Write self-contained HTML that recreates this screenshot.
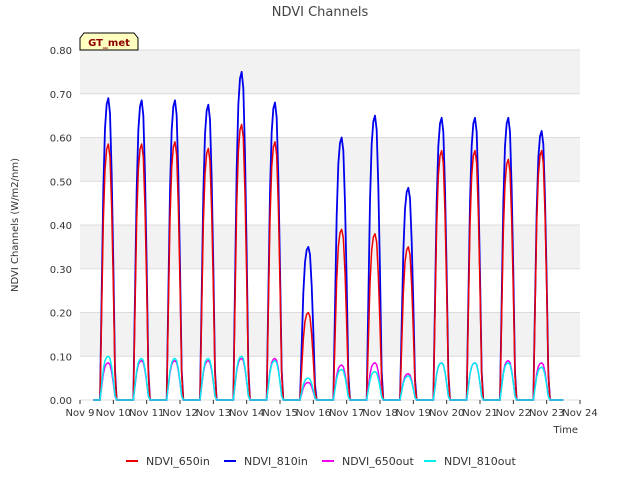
<!DOCTYPE html>
<html><head><meta charset="utf-8"><style>
body{margin:0;background:#fff;font-family:"Liberation Sans","DejaVu Sans",sans-serif}
</style></head><body>
<svg width="640" height="480" xmlns="http://www.w3.org/2000/svg" font-family="DejaVu Sans, Liberation Sans, sans-serif">
<rect width="640" height="480" fill="#fff"/>
<text x="320" y="16" text-anchor="middle" font-size="13" fill="#444">NDVI Channels</text>
<g id="bands"></g>
<g id="grid"></g>
<g id="series"></g>
<g id="axes"></g>
<text transform="translate(18,225) rotate(-90)" text-anchor="middle" font-size="10" fill="#333">NDVI Channels (W/m2/nm)</text>
<text x="578" y="433" text-anchor="end" font-size="10" fill="#333">Time</text>
<g>
<path d="M80,50 L80,38 L84,33 L134,33 L138,38 L138,50 Z" fill="#ffffc0" stroke="#000"/>
<text x="109" y="46" text-anchor="middle" font-size="10" font-weight="bold" fill="#8b0000">GT_met</text>
</g>
<g id="legend"></g>
</svg>
<script>
const days=[9,10,11,12,13,14,15,16,17,18,19,20,21,22];
const xTicks=["Nov 9","Nov 10","Nov 11","Nov 12","Nov 13","Nov 14","Nov 15","Nov 16","Nov 17","Nov 18","Nov 19","Nov 20","Nov 21","Nov 22","Nov 23","Nov 24"];
const yTicks=[0,0.1,0.2,0.3,0.4,0.5,0.6,0.7,0.8];
const peak810in=[0.69,0.685,0.685,0.675,0.75,0.68,0.35,0.60,0.65,0.485,0.645,0.645,0.645,0.615];
const peak650in=[0.585,0.585,0.59,0.575,0.63,0.59,0.20,0.39,0.38,0.35,0.57,0.57,0.55,0.57];
const peak650out=[0.085,0.09,0.09,0.09,0.095,0.095,0.04,0.08,0.085,0.06,0.085,0.085,0.09,0.085];
const peak810out=[0.10,0.095,0.095,0.095,0.10,0.09,0.05,0.07,0.065,0.055,0.085,0.085,0.085,0.075];
const profOffsets=[0.6,0.65,0.7,0.75,0.8,0.85,0.9,0.95,1.0,1.05,1.1];
const profShape=[0,0.35,0.7,0.9,0.98,1,0.95,0.75,0.45,0.1,0];
const NS="http://www.w3.org/2000/svg";
const X0=80,X1=580,Y0=400,Y1=50;
const xs=d=>X0+(d-9)/15*(X1-X0);
const ys=v=>Y0-v/0.8*(Y0-Y1);
function mk(t,a,p){const e=document.createElementNS(NS,t);for(const k in a)e.setAttribute(k,a[k]);p.appendChild(e);return e;}
const bands=document.getElementById('bands'),grid=document.getElementById('grid'),axes=document.getElementById('axes');
mk('rect',{x:X0,y:Y1,width:X1-X0,height:Y0-Y1,fill:'#fff'},bands);
for(let i=1;i<yTicks.length;i+=2){
 const r=mk('rect',{x:X0,y:ys(yTicks[i+1]),width:X1-X0,height:ys(yTicks[i])-ys(yTicks[i+1]),fill:'#f2f2f2'},bands);
 
 
}
yTicks.forEach(v=>{
 const l=mk('line',{x1:X0,x2:X1,y1:ys(v),y2:ys(v),stroke:'#dcdcdc'},grid);
 
 
 const t=mk('text',{x:X0-8,y:ys(v)+4,'text-anchor':'end','font-size':10,fill:'#333'},axes);
 t.textContent=v.toFixed(2);
 
 
});
xTicks.forEach((s,i)=>{
 const x=xs(9+i);
 mk('line',{x1:x,x2:x,y1:Y0,y2:Y0+4,stroke:'#333'},axes);
 const t=mk('text',{x:x,y:Y0+16,'text-anchor':'middle','font-size':10,fill:'#333'},axes);
 t.textContent=s;
 
 
});
const ser=document.getElementById('series');
function draw(peaks,color,name,w){
 let pts=[[xs(9.4),ys(0)]];
 days.forEach((d,i)=>{profOffsets.forEach((o,j)=>pts.push([xs(d+o),ys(peaks[i]*profShape[j])]));});
 pts.push([xs(23.5),ys(0)]);
 const p=mk('polyline',{points:pts.map(p=>p.join(',')).join(' '),fill:'none',stroke:color,'stroke-width':w,'stroke-linejoin':'round'},ser);
 
 
}
draw(peak810in,'#0000ee','series-ndvi-810in',1.8);
draw(peak650in,'#ee0000','series-ndvi-650in',1.5);
draw(peak650out,'#ee00ee','series-ndvi-650out',1.5);
draw(peak810out,'#00eeee','series-ndvi-810out',1.5);
const leg=document.getElementById('legend');
const items=[["NDVI_650in","#ee0000",126],["NDVI_810in","#0000ee",224],["NDVI_650out","#ee00ee",322],["NDVI_810out","#00eeee",424]];
items.forEach(it=>{
 const g=mk('g',{},leg);
 
 
 mk('line',{x1:it[2],x2:it[2]+12,y1:461,y2:461,stroke:it[1],'stroke-width':2},g);
 const t=mk('text',{x:it[2]+20,y:465,'font-size':11,fill:'#333'},g);
 t.textContent=it[0];
});
</script>
</body></html>
